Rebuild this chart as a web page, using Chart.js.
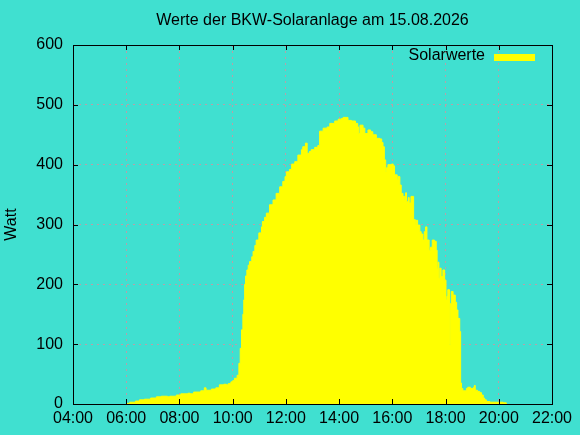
<!DOCTYPE html>
<html>
<head>
<meta charset="utf-8">
<title>BKW-Solaranlage</title>
<script src="https://cdn.jsdelivr.net/npm/chart.js"></script>
<style>
  html, body { margin: 0; padding: 0; background: #40e0d0; }
  canvas { display: block; }
</style>
</head>
<body>
<canvas id="chart" width="580" height="435"></canvas>
<script>
// 🔹 DATA
const times = [
  "06:00", "06:08", "06:21", "06:30", "06:41", "06:55", "07:08", "07:19", "07:33", "07:38",
  "07:53", "08:03", "08:19", "08:24", "08:32", "08:48", "08:56", "09:00", "09:12", "09:22",
  "09:30", "09:40", "09:46", "09:50", "09:56", "10:00", "10:04", "10:10", "10:14", "10:17",
  "10:20", "10:23", "10:25", "10:27", "10:29", "10:32", "10:35", "10:38", "10:43", "10:46",
  "10:50", "10:53", "10:59", "11:05", "11:07", "11:12", "11:16", "11:23", "11:31", "11:38",
  "11:46", "11:53", "11:58", "12:01", "12:08", "12:13", "12:20", "12:27", "12:35", "12:38",
  "12:44", "12:48", "12:53", "12:57", "13:05", "13:12", "13:16", "13:24", "13:33", "13:39",
  "13:50", "13:58", "14:05", "14:09", "14:16", "14:20", "14:28", "14:37", "14:42", "14:44",
  "14:47", "14:54", "14:58", "15:05", "15:11", "15:16", "15:24", "15:32", "15:36", "15:39",
  "15:42", "15:45", "15:47", "15:50", "15:58", "16:02", "16:05", "16:11", "16:13", "16:17",
  "16:20", "16:24", "16:28", "16:30", "16:32", "16:36", "16:38", "16:42", "16:48", "16:52",
  "16:54", "16:57", "17:02", "17:05", "17:09", "17:12", "17:15", "17:18", "17:23", "17:26",
  "17:30", "17:35", "17:39", "17:41", "17:43", "17:45", "17:47", "17:50", "17:54", "17:58",
  "18:01", "18:03", "18:05", "18:09", "18:11", "18:13", "18:17", "18:22", "18:25", "18:28",
  "18:32", "18:34", "18:36", "18:39", "18:47", "18:50", "18:56", "19:03", "19:05", "19:07",
  "19:12", "19:17", "19:21", "19:25", "19:28", "19:32", "19:40", "20:10", "20:17"
];
const watts = [
  1, 3, 5, 7, 8, 10, 12, 13, 12, 13,
  15, 17, 18, 17, 20, 22, 27, 23, 25, 27,
  32, 33, 32, 34, 37, 39, 43, 48, 68, 93,
  124, 150, 174, 200, 214, 224, 232, 238, 246, 255,
  265, 274, 286, 296, 305, 312, 319, 333, 341, 352,
  363, 372, 380, 388, 392, 401, 405, 416, 425, 430,
  436, 419, 422, 425, 429, 432, 456, 461, 463, 469,
  473, 476, 477, 479, 479, 474, 473, 469, 463, 452,
  466, 461, 452, 458, 455, 450, 444, 443, 437, 430,
  408, 388, 395, 400, 401, 398, 383, 375, 380, 366,
  352, 347, 341, 353, 338, 345, 336, 347, 308, 299,
  307, 299, 288, 284, 274, 288, 296, 274, 257, 262,
  274, 272, 257, 227, 237, 210, 227, 213, 224, 207,
  174, 180, 191, 99, 168, 188, 182, 170, 157, 143,
  121, 35, 26, 22, 26, 28, 26, 28, 31, 23,
  21, 19, 15, 10, 7, 4, 3, 2, 0
];
const xTickLabels = ["04:00", "06:00", "08:00", "10:00", "12:00", "14:00", "16:00", "18:00", "20:00", "22:00"];
const yTicks = [0, 100, 200, 300, 400, 500, 600];

const FONT = "Liberation Sans";
const TICK = 5;

function toHours(s) {
  const [h, m] = s.split(":").map(Number);
  return h + m / 60;
}

const xTickValues = xTickLabels.map(toHours);
const points = times.map((t, i) => ({ x: toHours(t), y: watts[i] }));

// 🔹 gnuplot style frame: border, inward ticks on all sides, key top right
const gnuplotFrame = {
  id: "gnuplotFrame",
  afterDatasetsDraw(chart) {
    const { ctx, chartArea: a, scales } = chart;
    const x = scales.x, y = scales.y;
    ctx.save();
    ctx.strokeStyle = "#000";
    ctx.lineWidth = 1;
    ctx.beginPath();
    xTickValues.forEach(v => {
      const px = Math.round(x.getPixelForValue(v)) + 0.5;
      ctx.moveTo(px, a.bottom); ctx.lineTo(px, a.bottom - TICK);
      ctx.moveTo(px, a.top); ctx.lineTo(px, a.top + TICK);
    });
    yTicks.forEach(v => {
      const py = Math.round(y.getPixelForValue(v)) + 0.5;
      ctx.moveTo(a.left, py); ctx.lineTo(a.left + TICK, py);
      ctx.moveTo(a.right, py); ctx.lineTo(a.right - TICK, py);
    });
    ctx.stroke();
    ctx.strokeRect(a.left + 0.5, a.top + 0.5, a.right - a.left, a.bottom - a.top);

    // key
    ctx.font = "16px '" + FONT + "'";
    ctx.fillStyle = "#000";
    ctx.textAlign = "right";
    ctx.textBaseline = "middle";
    ctx.fillText(chart.data.datasets[0].label, a.right - 67, a.top + 11);
    ctx.fillStyle = "#ffff00";
    ctx.fillRect(a.right - 58, a.top + 9, 41, 7);
    ctx.restore();
  }
};

new Chart(document.getElementById("chart"), {
  type: "line",
  data: {
    datasets: [{
      label: "Solarwerte",
      data: points,
      stepped: true,
      fill: "origin",
      backgroundColor: "#ffff00",
      borderColor: "#ffff00",
      borderWidth: 1,
      pointRadius: 0
    }]
  },
  options: {
    responsive: false,
    animation: false,
    devicePixelRatio: 1,
    layout: { padding: { left: 0, right: 28, top: 0, bottom: 0 } },
    plugins: {
      legend: { display: false },
      tooltip: { enabled: false },
      title: {
        display: true,
        fullSize: false,
        text: "Werte der BKW-Solaranlage am 15.08.2026",
        color: "#000",
        font: { family: FONT, size: 16, weight: "normal" },
        padding: { top: 11, bottom: 14.8 }
      }
    },
    scales: {
      x: {
        type: "linear",
        min: 4,
        max: 22,
        afterFit: s => { s.height = 31; },
        afterBuildTicks: s => { s.ticks = xTickValues.map(v => ({ value: v })); },
        ticks: {
          autoSkip: false,
          maxRotation: 0,
          padding: 5,
          color: "#000",
          font: { family: FONT, size: 16 },
          callback: (v, i) => xTickLabels[i]
        },
        grid: { color: "#b8a0a8", lineWidth: 1, drawTicks: false },
        border: { display: false, dash: [2, 4] }
      },
      y: {
        min: 0,
        max: 600,
        afterFit: s => { s.width = 73; },
        afterBuildTicks: s => { s.ticks = yTicks.map(v => ({ value: v })); },
        ticks: {
          padding: 10,
          color: "#000",
          font: { family: FONT, size: 16 }
        },
        grid: { color: "#b8a0a8", lineWidth: 1, drawTicks: false },
        border: { display: false, dash: [2, 4] },
        title: {
          display: true,
          text: "Watt",
          color: "#000",
          font: { family: FONT, size: 16 },
          padding: { top: 2, bottom: 0 }
        }
      }
    }
  },
  plugins: [gnuplotFrame]
});
</script>
</body>
</html>
